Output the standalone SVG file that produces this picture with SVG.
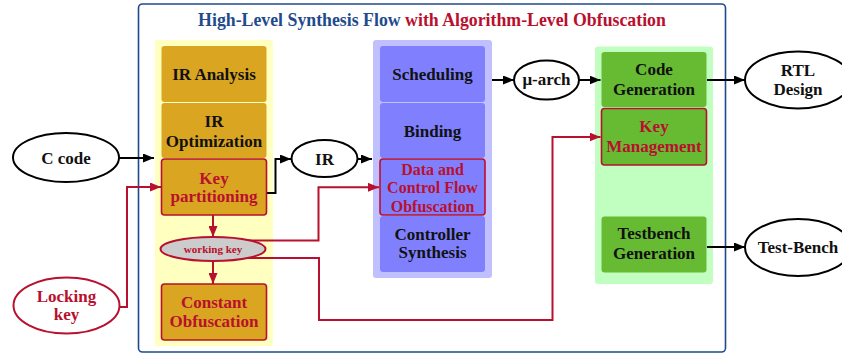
<svg xmlns="http://www.w3.org/2000/svg" width="842" height="353" viewBox="0 0 842 353">
<style>
text{font-family:"Liberation Serif","Times New Roman",serif;font-weight:bold;text-anchor:middle;}
.t{font-size:17px;fill:#111;}
.r{fill:#b8102e;}
.sm{font-size:16px;}
.panel{stroke:none;}
.gold{fill:#daa520;}
.blue{fill:#8080ff;}
.green{fill:#66bb33;}
.redb{stroke:#b8102e;stroke-width:1.6;}
.ell{fill:#fff;stroke:#000;stroke-width:2;}
.rell{fill:#fff;stroke:#b8102e;stroke-width:2;}
.bl{fill:none;stroke:#000;stroke-width:2;marker-end:url(#ab);}
.rl{fill:none;stroke:#b8102e;stroke-width:2;marker-end:url(#ar);}
</style>
<defs>
<marker id="ab" markerUnits="userSpaceOnUse" markerWidth="11" markerHeight="9" refX="11" refY="4.5" orient="auto"><path d="M0,0 L11,4.5 L0,9 z" fill="#000"/></marker>
<marker id="ar" markerUnits="userSpaceOnUse" markerWidth="11" markerHeight="9" refX="11" refY="4.5" orient="auto"><path d="M0,0 L11,4.5 L0,9 z" fill="#b8102e"/></marker>
</defs>
<rect width="842" height="353" fill="#fff"/>
<g id="frame">
<rect x="138.5" y="4" width="587" height="348" rx="4" fill="none" stroke="#1f4b8c" stroke-width="1.6"/>
<text x="432" y="26" style="font-size:17.8px"><tspan fill="#1f4b8c">High-Level Synthesis Flow</tspan> <tspan fill="#b8102e">with Algorithm-Level Obfuscation</tspan></text>
<rect class="panel" x="155" y="40" width="118" height="306" rx="3" fill="#ffffc0"/>
<rect class="panel" x="373" y="40" width="119" height="238" rx="3" fill="#c0c0ff"/>
<rect class="panel" x="595" y="46.5" width="118" height="237.5" rx="3" fill="#c0ffc0"/>
</g>
<g id="connectors">
<path class="bl" d="M119,158 H154"/>
<path class="rl" d="M119,307 H127 V187 H161"/>
<path class="bl" d="M267,193 H275.5 V159 H291"/>
<path class="bl" d="M357.5,159 H372"/>
<path class="rl" d="M213,215 V237"/>
<path class="rl" d="M213,261 V284"/>
<path class="rl" d="M240,240.5 H318.5 V187.3 H379"/>
<path class="rl" d="M240,258 H319 V320 H552.5 V137 H600.5"/>
<path class="bl" d="M492,80 H514"/>
<path class="bl" d="M579,80 H600.5"/>
<path class="bl" d="M707,80 H745"/>
<path class="bl" d="M707,247 H745"/>
</g>
<g id="c-code"><ellipse class="ell" cx="66" cy="157.5" rx="53" ry="24.5"/><text class="t" x="66" y="164">C code</text></g>
<g id="locking-key"><ellipse class="rell" cx="66.5" cy="305.5" rx="53" ry="28"/><text class="t r" x="66.5" y="301.5">Locking</text><text class="t r" x="66.5" y="319.5">key</text></g>
<g id="ir-analysis"><rect class="gold" x="161.5" y="46" width="105" height="56" rx="3"/><text class="t" x="214" y="80">IR Analysis</text></g>
<g id="ir-optimization"><rect class="gold" x="161.5" y="103" width="105" height="55" rx="3"/><text class="t" x="214" y="126.5">IR</text><text class="t" x="214" y="146.5">Optimization</text></g>
<g id="key-partitioning"><rect class="gold redb" x="161.5" y="159" width="105" height="56" rx="3"/><text class="t r" x="214" y="184">Key</text><text class="t r" x="214" y="202">partitioning</text></g>
<g id="working-key"><ellipse cx="213" cy="249" rx="52.5" ry="12" fill="#cccccc" stroke="#b8102e" stroke-width="2"/><text class="r" x="213" y="252.7" style="font-size:11px">working key</text></g>
<g id="constant-obfuscation"><rect class="gold redb" x="161.5" y="284" width="105" height="56" rx="3"/><text class="t r" x="214" y="307.5">Constant</text><text class="t r" x="214" y="326.5">Obfuscation</text></g>
<g id="ir"><ellipse class="ell" cx="324.5" cy="158.5" rx="33" ry="18.5"/><text class="t" x="324.5" y="165">IR</text></g>
<g id="scheduling"><rect class="blue" x="380" y="46" width="105" height="56" rx="3"/><text class="t" x="432.5" y="80">Scheduling</text></g>
<g id="binding"><rect class="blue" x="380" y="103" width="105" height="55" rx="3"/><text class="t" x="432.5" y="136.5">Binding</text></g>
<g id="data-control-flow-obfuscation"><rect class="blue redb" x="380" y="159" width="105" height="56" rx="3"/><text class="t r sm" x="432.5" y="175">Data and</text><text class="t r sm" x="432.5" y="193.3">Control Flow</text><text class="t r sm" x="432.5" y="211.5">Obfuscation</text></g>
<g id="controller-synthesis"><rect class="blue" x="380" y="216" width="105" height="56" rx="3"/><text class="t" x="432.5" y="240">Controller</text><text class="t" x="432.5" y="258.3">Synthesis</text></g>
<g id="u-arch"><ellipse class="ell" cx="546.5" cy="80" rx="32.5" ry="19.5"/><text class="t" x="546.5" y="85">μ-arch</text></g>
<g id="code-generation"><rect class="green" x="601.5" y="52" width="105" height="55" rx="3"/><text class="t" x="654" y="75">Code</text><text class="t" x="654" y="95">Generation</text></g>
<g id="key-management"><rect class="green redb" x="601.5" y="108.5" width="105" height="56.5" rx="3"/><text class="t r" x="654" y="131.7">Key</text><text class="t r" x="654" y="151.7">Management</text></g>
<g id="testbench-generation"><rect class="green" x="601.5" y="216.5" width="105" height="56" rx="3"/><text class="t" x="654" y="239.3">Testbench</text><text class="t" x="654" y="259.3">Generation</text></g>
<g id="rtl-design"><ellipse class="ell" cx="798" cy="80" rx="53" ry="28.5"/><text class="t" x="798" y="76">RTL</text><text class="t" x="798" y="95">Design</text></g>
<g id="test-bench"><ellipse class="ell" cx="798" cy="247.5" rx="53" ry="28.5"/><text class="t" x="798" y="253">Test-Bench</text></g>
</svg>
